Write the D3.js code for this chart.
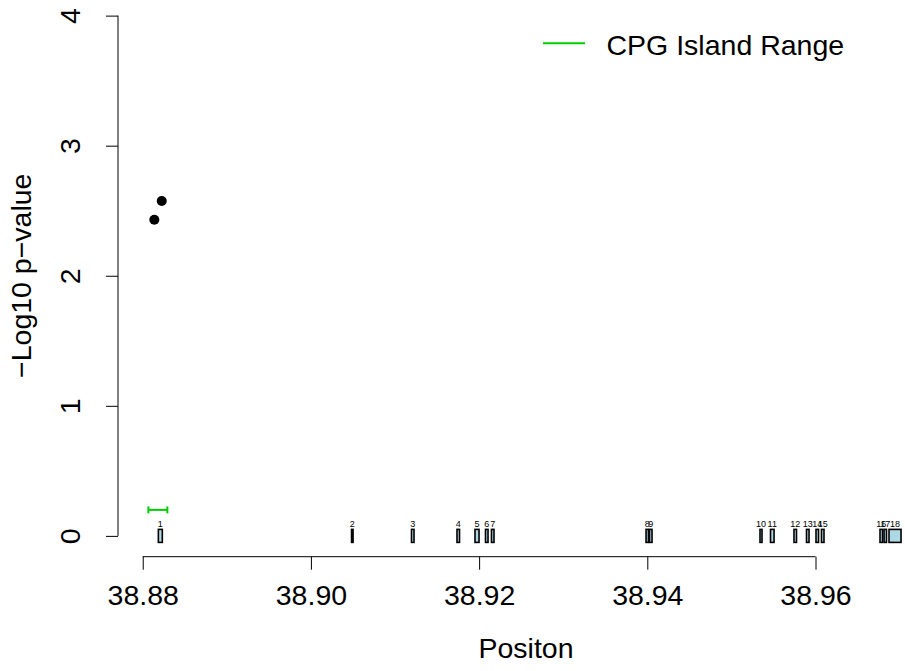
<!DOCTYPE html>
<html>
<head>
<meta charset="utf-8">
<script src="https://cdn.jsdelivr.net/npm/d3@7"></script>
<style>
  body { margin: 0; background: #fff; }
  text { font-family: "Liberation Sans", Arial, sans-serif; fill: #000; }
</style>
</head>
<body>
<div id="chart-area"></div>
<script>
// data
var pointPos = [38.88138, 38.88226];
var pointLogP = [2.43, 2.575];

var cpgStart = 38.88067, cpgEnd = 38.88293, cpgY = 0.2;

var exonIds = ['1','2','3','4','5','6','7','8','9','10','11','12','13','14','15','16','17','18'];
var exonStart = [38.88186, 38.90483, 38.91196, 38.91737, 38.91951, 38.92076, 38.92147, 38.93985, 38.94026,
                 38.95340, 38.95465, 38.95744, 38.95893, 38.96006, 38.96071, 38.96767, 38.96815, 38.96874];
var exonEnd   = [38.88233, 38.90501, 38.91226, 38.91767, 38.91999, 38.92106, 38.92177, 38.94014, 38.94056,
                 38.95364, 38.95507, 38.95774, 38.95923, 38.96036, 38.96101, 38.96797, 38.96844, 38.97017];

var xTicks = [38.88, 38.90, 38.92, 38.94, 38.96];
var yTicks = [0, 1, 2, 3, 4];

var width = 905, height = 671;
var green = '#00cd00';

var svg = d3.select('#chart-area').append('svg')
    .attr('width', width)
    .attr('height', height);

// plot region (R style, 4% padding on the data range)
var x = d3.scaleLinear()
    .domain([38.87706, 38.97409])
    .range([118, 934]);
var y = d3.scaleLinear()
    .domain([-0.16, 4.16])
    .range([556.7, -5.2]);

//x axis
var xAxis = d3.axisBottom(x)
    .tickValues(xTicks)
    .tickSize(13)
    .tickFormat(d3.format('.2f'));

var gx = svg.append('g')
    .attr('transform', 'translate(0,' + y.range()[0] + ')')
    .call(xAxis);
gx.select('.domain').remove();
gx.append('line')
    .attr('x1', x(xTicks[0])).attr('x2', x(xTicks[xTicks.length - 1]))
    .attr('stroke', '#000');
gx.selectAll('.tick line').attr('stroke', '#000');
gx.selectAll('.tick text')
    .attr('y', 48).attr('dy', 0)
    .attr('font-size', '28.5px')
    .style('font-family', '"Liberation Sans", Arial, sans-serif')
    .attr('fill', '#000');

//y axis
var yAxis = d3.axisLeft(y)
    .tickValues(yTicks)
    .tickSize(12)
    .tickFormat(d3.format('d'));

var gy = svg.append('g')
    .attr('transform', 'translate(' + x.range()[0] + ',0)')
    .call(yAxis);
gy.select('.domain').remove();
gy.append('line')
    .attr('y1', y(yTicks[0])).attr('y2', y(yTicks[yTicks.length - 1]))
    .attr('stroke', '#000');
gy.selectAll('.tick line').attr('stroke', '#000');
gy.selectAll('.tick text')
    .attr('x', 0).attr('y', -38).attr('dy', 0)
    .attr('transform', 'rotate(-90)')
    .attr('text-anchor', 'middle')
    .attr('font-size', '28.5px')
    .style('font-family', '"Liberation Sans", Arial, sans-serif')
    .attr('fill', '#000');

//axis titles
svg.append('text')
    .attr('x', (x.range()[0] + x.range()[1]) / 2)
    .attr('y', 658)
    .attr('text-anchor', 'middle')
    .attr('font-size', '28.5px')
    .text('Positon');

svg.append('text')
    .attr('transform', 'translate(30.5,' + (y.range()[0] + y.range()[1]) / 2 + ') rotate(-90)')
    .attr('text-anchor', 'middle')
    .attr('font-size', '28.5px')
    .text('\u2212Log10 p\u2212value');

//exons
var exons = exonIds.map(function(id, i) {
  return { id: id, start: exonStart[i], end: exonEnd[i] };
});

svg.selectAll('rect.exon')
    .data(exons)
  .enter().append('rect')
    .attr('class', 'exon')
    .attr('x', function(d) { return x(d.start); })
    .attr('y', y(0.05))
    .attr('width', function(d) { return x(d.end) - x(d.start); })
    .attr('height', y(-0.05) - y(0.05))
    .attr('fill', 'lightblue')
    .attr('stroke', '#000')
    .attr('stroke-width', 1.6);

svg.selectAll('text.exon-label')
    .data(exons)
  .enter().append('text')
    .attr('class', 'exon-label')
    .attr('x', function(d) { return x((d.start + d.end) / 2); })
    .attr('y', y(0.1) + 4)
    .attr('text-anchor', 'middle')
    .attr('font-size', '9px')
    .text(function(d) { return d.id; });

//cpg island range with end caps
var cpg = svg.append('g')
    .attr('stroke', green)
    .attr('stroke-width', 2);
cpg.append('line')
    .attr('x1', x(cpgStart)).attr('x2', x(cpgEnd))
    .attr('y1', y(cpgY)).attr('y2', y(cpgY));
[cpgStart, cpgEnd].forEach(function(v) {
  cpg.append('line')
    .attr('x1', x(v)).attr('x2', x(v))
    .attr('y1', y(cpgY) - 3.5).attr('y2', y(cpgY) + 3.5);
});

//points
svg.selectAll('circle')
    .data(pointPos)
  .enter().append('circle')
    .attr('cx', function(d) { return x(d); })
    .attr('cy', function(d, i) { return y(pointLogP[i]); })
    .attr('r', 5)
    .attr('fill', '#000');

//legend
var legend = svg.append('g');
legend.append('line')
    .attr('x1', 543).attr('x2', 585)
    .attr('y1', 43.3).attr('y2', 43.3)
    .attr('stroke', green)
    .attr('stroke-width', 2);
legend.append('text')
    .attr('x', 606.5)
    .attr('y', 55)
    .attr('font-size', '28.5px')
    .text('CPG Island Range');
</script>
</body>
</html>
